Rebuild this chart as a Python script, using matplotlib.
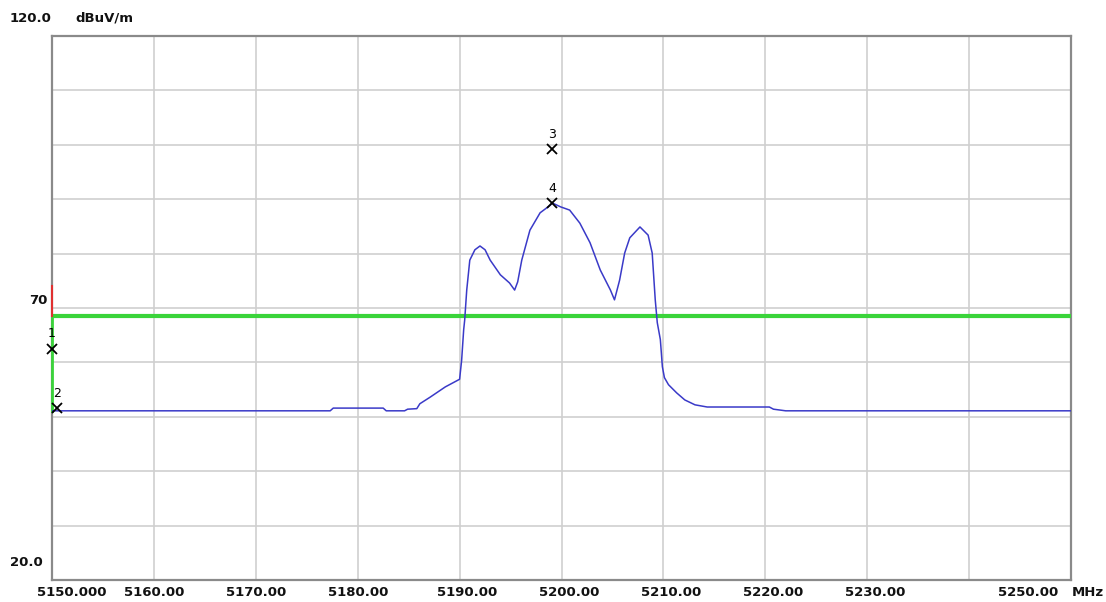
import matplotlib
matplotlib.use("Agg")
import matplotlib.pyplot as plt
import matplotlib.transforms as mtransforms

# ---- data ----
freq_mhz = [5150.0, 5177.3, 5177.6, 5182.5, 5182.8, 5184.6, 5184.9, 5185.8, 5186.1,
            5187.1, 5188.6, 5189.7, 5190.0, 5190.2, 5190.4, 5190.5, 5190.7, 5191.0,
            5191.5, 5192.0, 5192.5, 5193.0, 5194.0, 5194.9, 5195.4, 5195.7, 5196.1,
            5196.9, 5197.9, 5198.9, 5199.1, 5199.9, 5200.8, 5201.8, 5202.8, 5203.8,
            5204.8, 5205.2, 5205.7, 5206.2, 5206.7, 5207.7, 5208.5, 5208.9, 5209.2,
            5209.4, 5209.7, 5209.9, 5210.1, 5210.5, 5211.3, 5212.1, 5213.1, 5214.3,
            5220.4, 5220.8, 5222.0, 5250.0]
level_dbuv = [51.1, 51.1, 51.6, 51.6, 51.1, 51.1, 51.4, 51.5, 52.4,
              53.6, 55.5, 56.6, 56.9, 60.4, 66.0, 67.8, 73.3, 78.8,
              80.7, 81.4, 80.7, 78.8, 76.1, 74.6, 73.3, 74.8, 78.8,
              84.3, 87.5, 88.9, 89.3, 88.6, 88.0, 85.6, 82.0, 77.0,
              73.3, 71.5, 75.1, 80.1, 82.9, 84.9, 83.4, 80.1, 71.5,
              67.3, 64.2, 59.2, 57.2, 55.9, 54.4, 53.1, 52.2, 51.8,
              51.8, 51.4, 51.1, 51.1]

limit_level = 68.5
limit_label = "70"

marker_ids = ["1", "2", "3", "4"]
marker_freqs = [5150.0, 5150.5, 5199.1, 5199.1]
marker_levels = [62.5, 51.6, 99.2, 89.3]

xtick_values = [5150, 5160, 5170, 5180, 5190, 5200, 5210, 5220, 5230, 5240, 5250]
xtick_labels = ["5150.000", "5160.00", "5170.00", "5180.00", "5190.00", "5200.00",
                "5210.00", "5220.00", "5230.00", "", "5250.00"]
ytick_values = [20, 30, 40, 50, 60, 70, 80, 90, 100, 110, 120]

x_min, x_max = 5150, 5250
y_min, y_max = 20, 120

# ---- figure ----
W, H = 1106, 602
fig = plt.figure(figsize=(W / 100, H / 100), dpi=100)
fig.patch.set_facecolor("white")
ax = fig.add_axes([52 / W, 1 - 580 / H, (1071 - 52) / W, (580 - 36) / H])
ax.set_xlim(x_min, x_max)
ax.set_ylim(y_min, y_max)

for s in ax.spines.values():
    s.set_color("#8a8a8a")
    s.set_linewidth(1.6)

ax.set_xticks(xtick_values)
ax.set_yticks(ytick_values)
ax.tick_params(length=0, labelbottom=False, labelleft=False)
ax.grid(True, color="#cfcfcf", linewidth=1.2)
ax.set_axisbelow(True)

# limit line
ax.axhline(limit_level, color="#3ad43a", linewidth=3.0, zorder=3)
ax.plot([x_min, x_min], [level_dbuv[0], limit_level],
        color="#3ad43a", linewidth=2.0, zorder=3, clip_on=False)
ax.plot([x_min, x_min], [limit_level, limit_level + 5.5],
        color="#e03030", linewidth=1.5, zorder=3, clip_on=False)

# trace
ax.plot(freq_mhz, level_dbuv, color="#3a3ac8", linewidth=1.1, zorder=4)

# markers
for mid, mf, ml in zip(marker_ids, marker_freqs, marker_levels):
    ax.plot(mf, ml, marker="x", color="black", markersize=6.5, mew=1.3,
            zorder=5, clip_on=False)
    ax.annotate(mid, (mf, ml), xytext=(0, 6), textcoords="offset points",
                ha="center", va="bottom", fontsize=9, color="black",
                family="DejaVu Sans")

# x labels
font = dict(fontsize=9.5, fontweight="bold", color="#111111", family="DejaVu Sans")
trans = mtransforms.blended_transform_factory(ax.transData, fig.transFigure)
y_lab = 1 - 593 / H
for v, lab in zip(xtick_values, xtick_labels):
    if not lab:
        continue
    if v == x_min:
        ax.annotate(lab, (v, y_lab), xycoords=trans, xytext=(-15, 0),
                    textcoords="offset pixels", ha="left", va="center", **font)
        continue
    if v == x_max:
        ax.annotate(lab, (v, y_lab), xycoords=trans, xytext=(-13, 0),
                    textcoords="offset pixels", ha="right", va="center", **font)
        continue
    off = 8 if v >= 5190 else 0
    ax.annotate(lab, (v, y_lab), xycoords=trans, xytext=(off, 0),
                textcoords="offset pixels", ha="center", va="center", **font)

fig.text(1072 / W, y_lab, "MHz", ha="left", va="center", **font)

# y labels
fig.text(10 / W, 1 - 18 / H, "120.0", ha="left", va="center", **font)
fig.text(75 / W, 1 - 18 / H, "dBuV/m", ha="left", va="center", **font)
fig.text(47 / W, 1 - 301 / H, limit_label, ha="right", va="center", **font)
fig.text(10 / W, 1 - 563 / H, "20.0", ha="left", va="center", **font)

fig.savefig("out.png", dpi=100)
